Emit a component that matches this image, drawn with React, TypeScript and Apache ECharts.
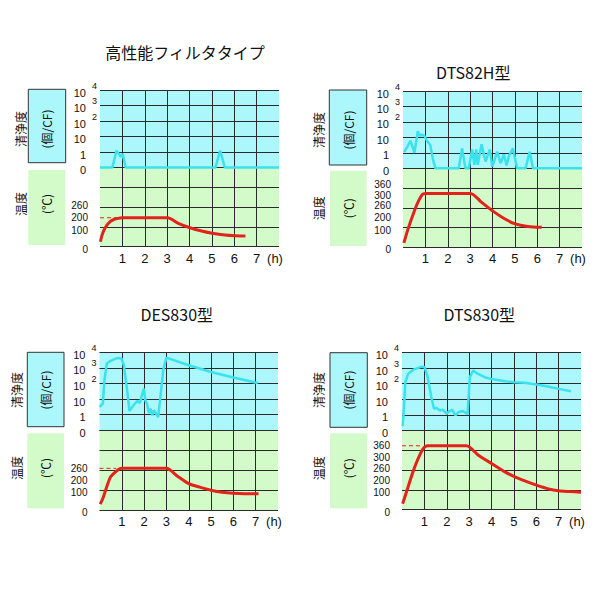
import React, { useEffect, useRef } from "react";
import * as echarts from "echarts";

const FONT = '"Noto Sans CJK JP", "Noto Sans", sans-serif';
const NUM_FONT = '"Liberation Sans", Arial, sans-serif';
const CYAN_BG = "#acf7fb";
const GREEN_BG = "#d3fbca";
const CYAN_LINE = "#3ae2ee";
const RED_LINE = "#e2231b";
const GRID_LINE = "#2b2b2b";
const TEXT = "#111111";

// ---- texts / tick labels ----
const titles = ["高性能フィルタタイプ", "DTS82H型", "DES830型", "DTS830型"];
const hourLabels = ["", "1", "2", "3", "4", "5", "6", "7", "(h)"];
const cleanLevelLabels = ["0", "1", "10", "10", "10", "10"];
const cleanLevelExponents = ["", "", "", "2", "3", "4"];
const cleanName = "清浄度";
const cleanUnit = "(個/CF)";
const tempName = "温度";
const tempUnit = "(℃)";

// ---- cleanliness (level: 0,1,10,10²,10³,10⁴ → 0..5) [hour, level] ----
const p1Clean = [
  [0, 0], [0.55, 0], [0.74, 1.09], [0.92, 0.7], [1.01, 0.88], [1.15, 0],
  [5.16, 0], [5.37, 1.09], [5.58, 0], [8, 0],
];
const p2Clean = [
  [0.05, 1.05], [0.21, 1.44], [0.33, 1.78], [0.45, 1.29], [0.51, 1.0], [0.66, 2.4],
  [0.75, 2.11], [0.85, 2.18], [0.96, 2.09], [1.07, 1.78], [1.22, 1.51], [1.34, 0.56],
  [1.45, 0], [2.49, 0], [2.64, 1.29], [2.79, 0], [2.94, 0], [3.09, 1.22], [3.19, 0.22],
  [3.27, 1.22], [3.34, 0.22], [3.51, 1.56], [3.69, 0.44], [3.88, 1.22], [3.99, 0.11],
  [4.21, 1.07], [4.36, 0.33], [4.51, 0.89], [4.63, 0.18], [4.73, 0.78], [4.91, 1.29],
  [5.1, 0], [5.48, 0], [5.66, 1.07], [5.81, 0], [8, 0],
];
const p3Clean = [
  [0, 1.5], [0.15, 1.71], [0.22, 3.2], [0.33, 4.3], [0.5, 4.45], [0.72, 4.59],
  [0.84, 4.64], [0.99, 4.59], [1.09, 4.17], [1.24, 2.56], [1.34, 1.24], [1.49, 1.54],
  [1.69, 1.88], [1.81, 1.75], [1.93, 2.4], [1.99, 2.67], [2.06, 1.88], [2.13, 1.71],
  [2.21, 1.11], [2.28, 1.39], [2.36, 0.96], [2.43, 1.28], [2.54, 1.07], [2.63, 0.85],
  [2.72, 2.0], [2.86, 3.9], [3.0, 4.66], [4, 4.17], [5, 3.74], [6, 3.38], [7.1, 3.03],
];
const p4Clean = [
  [0.03, 0.26], [0.09, 1.5], [0.15, 3.1], [0.27, 3.63], [0.49, 3.89], [0.72, 4.02],
  [0.9, 4.1], [1.01, 4.06], [1.13, 3.53], [1.31, 2.14], [1.43, 1.39], [1.54, 1.45],
  [1.69, 1.28], [1.84, 1.32], [1.99, 1.07], [2.13, 1.24], [2.24, 1.32], [2.39, 0.96],
  [2.54, 1.18], [2.73, 1.24], [2.93, 1.03], [3.03, 3.42], [3.18, 3.85], [3.4, 3.63],
  [3.7, 3.42], [4, 3.31], [4.6, 3.16], [5, 3.1], [5.49, 3.06], [6.01, 2.95],
  [6.51, 2.82], [7.01, 2.67], [7.55, 2.52],
];

// ---- temperature [hour, °C] ----
const p1Temp = [
  [0.02, 30], [0.08, 65], [0.22, 115], [0.45, 169], [0.67, 190], [0.9, 199], [1.0, 200],
  [3.02, 200], [3.5, 155], [4.02, 119], [4.54, 94], [5.01, 81], [5.58, 70], [6.03, 66], [6.5, 65],
];
const p2Temp = [
  [0.04, 26], [0.22, 106], [0.45, 214], [0.67, 272], [0.89, 307], [1.09, 310],
  [3.02, 310], [3.5, 272], [4.02, 230], [4.54, 188], [5.01, 149], [5.58, 129], [6.2, 122],
];
const p3Temp = [
  [0.03, 33], [0.15, 65], [0.27, 116], [0.49, 218], [0.72, 243], [0.9, 258], [1.0, 260],
  [3.0, 260], [3.48, 224], [4, 176], [4.52, 143], [5, 118], [5.49, 100], [6, 94], [6.5, 92], [7.13, 92],
];
const p4Temp = [
  [0.03, 34], [0.27, 143], [0.49, 243], [0.72, 295], [0.94, 344], [1.16, 360],
  [2.88, 360], [3.4, 312], [4, 278], [4.6, 243], [5, 220], [5.49, 195], [6.01, 159],
  [6.5, 130], [7, 111], [7.5, 105], [8, 100],
];

// dashed reference at plateau temperature [hour, °C]
const p1Dash = [[0, 200], [0.85, 200]];
const p2Dash: number[][] = [];
const p3Dash = [[0, 260], [0.75, 260]];
const p4Dash = [[0, 360], [0.9, 360]];

// temperature tick labels
const p1TempTicks = [0, 100, 200, 260];
const p2TempTicks = [0, 100, 200, 260, 300, 360];
const p3TempTicks = [0, 100, 200, 260];
const p4TempTicks = [0, 100, 200, 260, 300, 360];

// non-linear temperature scale of each panel: tick → grid row (0 = bottom, 4 = top)
const p1TempScale = [0, 0.84, 1.46, 2.08];
const p2TempScale = [0, 0.87, 1.52, 2.14, 2.64, 3.18];
const p3TempScale = [0, 0.89, 1.46, 2.09];
const p4TempScale = [0, 0.88, 1.48, 2.07, 2.64, 3.22];

function toRow(t: number, ticks: number[], rows: number[]) {
  let i = 0;
  while (i < ticks.length - 2 && t > ticks[i + 1]) i++;
  const t0 = ticks[i], t1 = ticks[i + 1];
  return rows[i] + ((t - t0) / (t1 - t0)) * (rows[i + 1] - rows[i]);
}

// ---- layout ----
const layouts = [
  {
    left: 100, width: 179, cTop: 90, cH: 77.5, gTop: 167.5, gH: 79.2,
    title: [185, 51.7], cBox: [28.3, 89.3, 37.4, 73.4], gBox: [28.3, 170, 37, 75],
    col1: 20, col2: 46.5, cY: 129, tY: 204,
  },
  {
    left: 403, width: 179, cTop: 91, cH: 77.3, gTop: 168.3, gH: 79,
    title: [473.3, 71.7], cBox: [329.3, 90, 37.4, 75], gBox: [330, 170.7, 36.7, 75.3],
    col1: 318.3, col2: 348.3, cY: 130, tY: 208.3,
  },
  {
    left: 99.5, width: 178.5, cTop: 352.3, cH: 78, gTop: 430.3, gH: 79.7,
    title: [176.7, 314], cBox: [27.3, 352.3, 36.7, 74.4], gBox: [27.3, 433.3, 36.7, 75],
    col1: 16, col2: 45.5, cY: 390, tY: 468,
  },
  {
    left: 402, width: 179, cTop: 352.7, cH: 77.6, gTop: 430.3, gH: 79.3,
    title: [479.3, 314], cBox: [330, 352.7, 37.3, 74.6], gBox: [330, 433.3, 37.3, 75],
    col1: 318.3, col2: 348.3, cY: 390, tY: 468.3,
  },
];
const BASE_LABEL_SHIFT = 2.5; // base labels sit slightly below their grid lines
const EXP_LABEL_SHIFT = -4.5; // exponents sit above
const EXP_GAP = 8;

const panelData = [
  { clean: p1Clean, temp: p1Temp, dash: p1Dash, ticks: p1TempTicks, scale: p1TempScale },
  { clean: p2Clean, temp: p2Temp, dash: p2Dash, ticks: p2TempTicks, scale: p2TempScale },
  { clean: p3Clean, temp: p3Temp, dash: p3Dash, ticks: p3TempTicks, scale: p3TempScale },
  { clean: p4Clean, temp: p4Temp, dash: p4Dash, ticks: p4TempTicks, scale: p4TempScale },
];

function buildOption() {
  const grid: any[] = [];
  const xAxis: any[] = [];
  const yAxis: any[] = [];
  const series: any[] = [];
  const graphic: any[] = [];

  const splitLineX = {
    show: true,
    showMinLine: false,
    showMaxLine: false,
    lineStyle: { color: GRID_LINE, width: 1 },
  };
  const hiddenX = (gi: number) => ({
    type: "value", gridIndex: gi, min: 0, max: 8, show: false,
  });

  layouts.forEach((L, p) => {
    const d = panelData[p];
    const g = 4 * p;
    // 0: cyan plot, 1: green plot, 2: base labels of cleanliness, 3: exponents
    grid.push({
      left: L.left, top: L.cTop, width: L.width, height: L.cH,
      show: true, backgroundColor: CYAN_BG, borderWidth: 0,
    });
    grid.push({
      left: L.left, top: L.gTop, width: L.width, height: L.gH,
      show: true, backgroundColor: GREEN_BG, borderWidth: 0,
    });
    grid.push({ left: L.left, top: L.cTop + BASE_LABEL_SHIFT, width: L.width, height: L.cH, show: false });
    grid.push({ left: L.left - EXP_GAP - 1, top: L.cTop + EXP_LABEL_SHIFT, width: 1, height: L.cH, show: false });

    // x axes
    xAxis.push({
      type: "value", gridIndex: g, min: 0, max: 8, interval: 1,
      axisLine: { show: false }, axisTick: { show: false }, axisLabel: { show: false },
      splitLine: splitLineX,
    });
    xAxis.push({
      type: "value", gridIndex: g + 1, min: 0, max: 8, interval: 1,
      axisLine: { show: false }, axisTick: { show: false },
      splitLine: splitLineX,
      axisLabel: {
        show: true, margin: 5, fontSize: 13, color: TEXT, fontFamily: NUM_FONT,
        formatter: (v: number) => {
          const s = hourLabels[Math.round(v)] || "";
          return s === "(h)" ? "{h|(h)}" : s;
        },
        rich: { h: { fontSize: 13, color: TEXT, fontFamily: NUM_FONT, padding: [0, 8, 0, 0] } },
      },
    });
    xAxis.push(hiddenX(g + 2));
    xAxis.push(hiddenX(g + 3));

    // y axes
    yAxis.push({
      type: "value", gridIndex: g, min: 0, max: 5, interval: 1,
      axisLine: { show: false }, axisTick: { show: false }, axisLabel: { show: false },
      splitLine: { show: true, lineStyle: { color: GRID_LINE, width: 1 } },
    });
    const ticks = d.ticks;
    const rows = d.scale;
    yAxis.push({
      type: "value", gridIndex: g + 1, min: 0, max: 4, interval: 1,
      axisLine: { show: false }, axisTick: { show: false },
      splitLine: { show: true, lineStyle: { color: GRID_LINE, width: 1 } },
      axisLabel: {
        customValues: rows,
        showMinLabel: true, showMaxLabel: true,
        margin: 12, fontSize: 10, lineHeight: 9, color: TEXT, fontFamily: NUM_FONT,
        formatter: (v: number) => {
          let bi = 0;
          rows.forEach((r, i) => {
            if (Math.abs(r - v) < Math.abs(rows[bi] - v)) bi = i;
          });
          const t = ticks[bi];
          return t === 0 ? "{z|0}" : String(t);
        },
        rich: { z: { fontSize: 10, lineHeight: 9, color: TEXT, fontFamily: NUM_FONT, padding: [5, 0, 0, 0] } },
      },
    });
    yAxis.push({
      type: "value", gridIndex: g + 2, min: 0, max: 5, interval: 1, position: "left",
      axisLine: { show: false }, axisTick: { show: false }, splitLine: { show: false },
      axisLabel: {
        margin: 14, fontSize: 11, color: TEXT, fontFamily: NUM_FONT,
        formatter: (v: number) => cleanLevelLabels[Math.round(v)] ?? "",
      },
    });
    yAxis.push({
      type: "value", gridIndex: g + 3, min: 0, max: 5, interval: 1, position: "right",
      axisLine: { show: false }, axisTick: { show: false }, splitLine: { show: false },
      axisLabel: {
        margin: 0, fontSize: 9, color: TEXT, fontFamily: NUM_FONT, align: "left",
        formatter: (v: number) => cleanLevelExponents[Math.round(v)] ?? "",
      },
    });

    series.push({
      type: "line", xAxisIndex: g, yAxisIndex: g,
      data: d.clean, symbol: "none", clip: false, z: 4,
      lineStyle: { color: CYAN_LINE, width: 2.5 },
    });
    series.push({
      type: "line", xAxisIndex: g + 1, yAxisIndex: g + 1,
      data: d.temp.map(([h, t]) => [h, toRow(t, ticks, rows)]),
      symbol: "none", smooth: 0.25, clip: false, z: 4,
      lineStyle: { color: RED_LINE, width: 3 },
    });
    if (d.dash.length) {
      series.push({
        type: "line", xAxisIndex: g + 1, yAxisIndex: g + 1,
        data: d.dash.map(([h, t]) => [h, toRow(t, ticks, rows)]),
        symbol: "none", z: 3,
        lineStyle: { color: RED_LINE, width: 1, type: [4, 3] },
      });
    }

    // decorations
    graphic.push({
      type: "text", x: L.title[0], y: L.title[1],
      style: { text: titles[p], fontSize: 16, fontFamily: FONT, fill: TEXT, align: "center", verticalAlign: "middle" },
    });
    graphic.push({
      type: "rect", shape: { x: L.cBox[0], y: L.cBox[1], width: L.cBox[2], height: L.cBox[3] },
      style: { fill: CYAN_BG, stroke: "#333", lineWidth: 1 },
    });
    graphic.push({
      type: "rect", shape: { x: L.gBox[0], y: L.gBox[1], width: L.gBox[2], height: L.gBox[3] },
      style: { fill: GREEN_BG },
    });
    const vText = (text: string, x: number, y: number) => ({
      type: "text", x, y, rotation: Math.PI / 2,
      style: { text, fontSize: 12, fontFamily: FONT, fill: TEXT, align: "center", verticalAlign: "middle" },
    });
    graphic.push(vText(cleanName, L.col1, L.cY));
    graphic.push(vText(cleanUnit, L.col2, L.cY));
    graphic.push(vText(tempName, L.col1, L.tY));
    graphic.push(vText(tempUnit, L.col2, L.tY));
  });

  return {
    animation: false,
    backgroundColor: "#ffffff",
    textStyle: { fontFamily: FONT },
    grid, xAxis, yAxis, series, graphic,
  };
}

export default function App() {
  const ref = useRef<HTMLDivElement>(null);
  useEffect(() => {
    if (!ref.current) return;
    const chart = echarts.init(ref.current, undefined, { renderer: "svg" });
    chart.setOption(buildOption() as any);
    return () => chart.dispose();
  }, []);
  return (
    <div
      ref={ref}
      style={{ position: "fixed", left: 0, top: 0, width: 600, height: 600, background: "#fff" }}
    />
  );
}
